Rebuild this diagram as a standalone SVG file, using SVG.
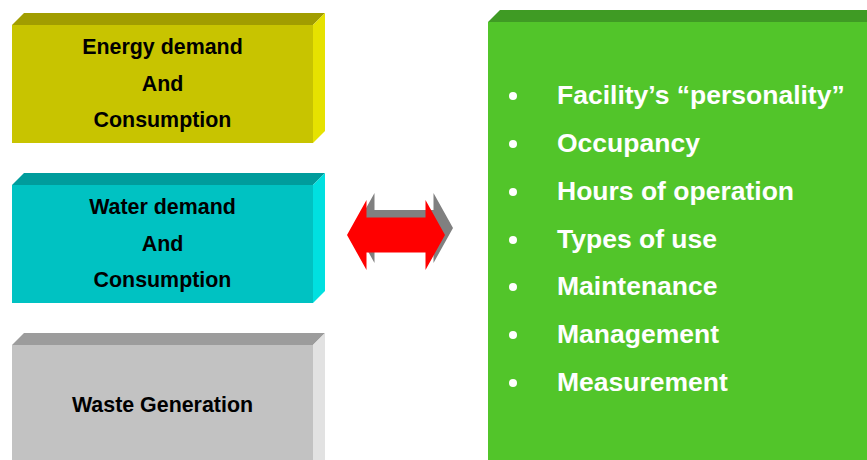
<svg xmlns="http://www.w3.org/2000/svg" width="867" height="460" viewBox="0 0 867 460">
<style>
text{font-family:"Liberation Sans",Arial,sans-serif;font-weight:bold}
.lbl{font-size:21.4px;fill:#000;text-anchor:middle}
.item{font-size:26.5px;fill:#fff}
</style>
<rect width="867" height="460" fill="#fff"/>
<g id="energy">
<polygon points="12,25 24,13 325,13 313,25" fill="#A19D00"/>
<polygon points="313,25 325,13 325,131 313,143" fill="#E6E200"/>
<rect x="12" y="25" width="301" height="118" fill="#C8C400"/>
<text class="lbl" x="162.5" y="54">Energy demand</text>
<text class="lbl" x="162.5" y="91">And</text>
<text class="lbl" x="162.5" y="127">Consumption</text>
</g>
<g id="water">
<polygon points="12,185 24,173 325,173 313,185" fill="#009C9C"/>
<polygon points="313,185 325,173 325,291 313,303" fill="#00E0E0"/>
<rect x="12" y="185" width="301" height="118" fill="#00C2C2"/>
<text class="lbl" x="162.5" y="214">Water demand</text>
<text class="lbl" x="162.5" y="251">And</text>
<text class="lbl" x="162.5" y="287">Consumption</text>
</g>
<g id="waste">
<polygon points="12,345 24,333 325,333 313,345" fill="#9C9C9C"/>
<polygon points="313,345 325,333 325,460 313,460" fill="#E2E2E2"/>
<rect x="12" y="345" width="301" height="115" fill="#C2C2C2"/>
<text class="lbl" x="162.5" y="412">Waste Generation</text>
</g>
<g id="connectors">
<polygon points="355,228 374.5,193 374.5,210 433.5,210 433.5,193 453,228 433.5,263 433.5,245 374.5,245 374.5,263" fill="#808080"/>
<polygon points="347,235 366.5,200 366.5,217.5 425.5,217.5 425.5,200 445,235 425.5,270 425.5,252.5 366.5,252.5 366.5,270" fill="#FF0000"/>
</g>
<g id="factors">
<polygon points="488,22 500,10 867,10 867,22" fill="#3F9B24"/>
<rect x="488" y="22" width="379" height="438" fill="#52C52A"/>
<g fill="#fff">
<circle cx="513" cy="96" r="4"/>
<circle cx="513" cy="144" r="4"/>
<circle cx="513" cy="192" r="4"/>
<circle cx="513" cy="240" r="4"/>
<circle cx="513" cy="287" r="4"/>
<circle cx="513" cy="335" r="4"/>
<circle cx="513" cy="383" r="4"/>
</g>
<text class="item" x="557" y="104">Facility’s “personality”</text>
<text class="item" x="557" y="152">Occupancy</text>
<text class="item" x="557" y="200">Hours of operation</text>
<text class="item" x="557" y="248">Types of use</text>
<text class="item" x="557" y="295">Maintenance</text>
<text class="item" x="557" y="343">Management</text>
<text class="item" x="557" y="391">Measurement</text>
</g>
</svg>
